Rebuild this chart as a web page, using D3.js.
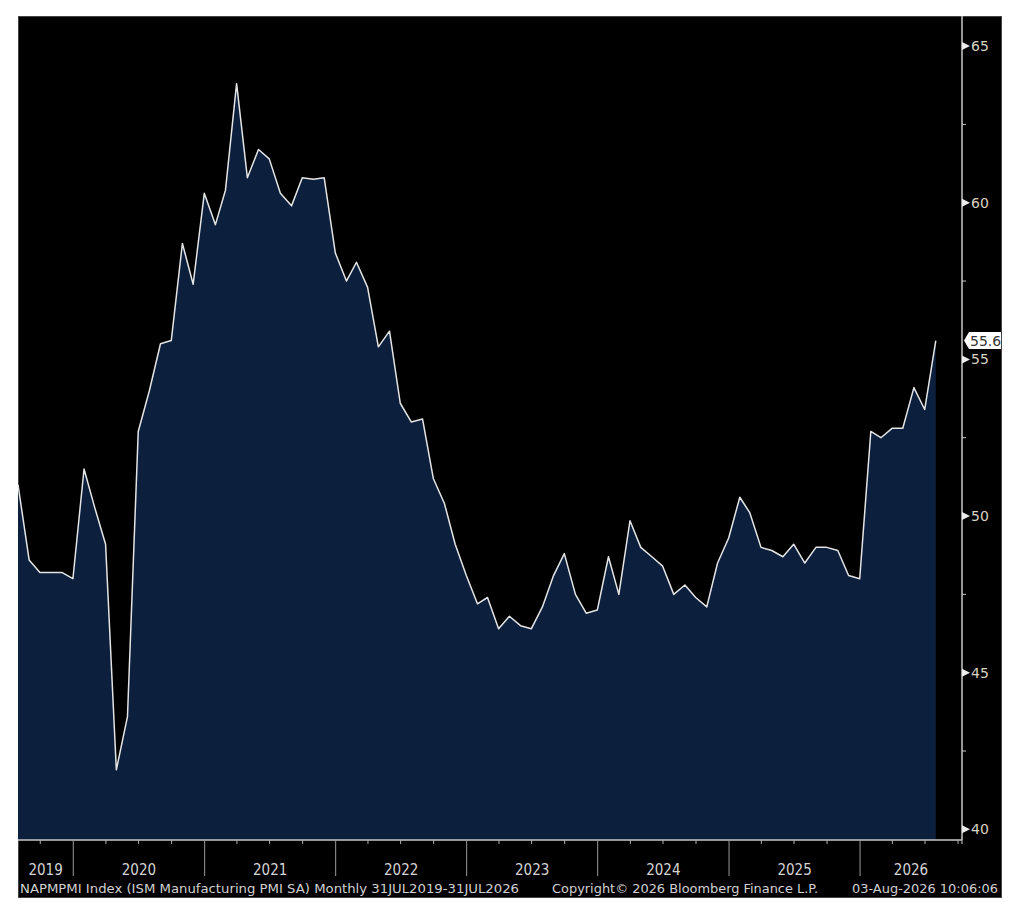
<!DOCTYPE html>
<html>
<head>
<meta charset="utf-8">
<script src="https://cdn.jsdelivr.net/npm/d3@7"></script>
<style>
  body { margin: 0; background: #fff; }
  text { font-family: "DejaVu Sans Condensed", "DejaVu Sans", sans-serif; }
</style>
</head>
<body>
<svg id="pmi-chart"></svg>
<script>
// ISM Manufacturing PMI, monthly, month-end observations 31 Jul 2019 .. 31 Jul 2026
const firstObs = { year: 2019, month: 7 };   // month index used with day 0 -> last day of July
const pmi = [
  51.0, 48.6, 48.2, 48.2, 48.2, 48.0,                         // 2019 Jul-Dec
  51.5, 50.3, 49.1, 41.9, 43.6, 52.7, 54.0, 55.5, 55.6, 58.7, 57.4, 60.3,   // 2020
  59.3, 60.4, 63.8, 60.8, 61.7, 61.4, 60.3, 59.9, 60.8, 60.75, 60.8, 58.4,  // 2021
  57.5, 58.1, 57.3, 55.4, 55.9, 53.6, 53.0, 53.1, 51.2, 50.4, 49.1, 48.1,   // 2022
  47.2, 47.4, 46.4, 46.8, 46.5, 46.4, 47.1, 48.1, 48.8, 47.5, 46.9, 47.0,   // 2023
  48.7, 47.5, 49.85, 49.0, 48.7, 48.4, 47.5, 47.8, 47.4, 47.1, 48.5, 49.3,  // 2024
  50.6, 50.1, 49.0, 48.9, 48.7, 49.1, 48.5, 49.0, 49.0, 48.9, 48.1, 48.0,   // 2025
  52.7, 52.5, 52.8, 52.8, 54.1, 53.4, 55.6                                  // 2026 Jan-Jul
];
const yMajor = [40, 45, 50, 55, 60, 65];
const yMinor = [42.5, 47.5, 52.5, 57.5, 62.5];
const years = [2019, 2020, 2021, 2022, 2023, 2024, 2025, 2026];
const lastLabel = "55.6";
const footerLeft = "NAPMPMI Index (ISM Manufacturing PMI SA) Monthly 31JUL2019-31JUL2026";
const footerMid = "Copyright\u00A9 2026 Bloomberg Finance L.P.";
const footerRight = "03-Aug-2026 10:06:06";

const W = 1024, H = 921;
const frame = { left: 18, top: 16, right: 1001, bottom: 897 };
const plot = { left: 18, top: 16, right: 962, bottom: 840 };

const data = pmi.map((v, i) => ({ date: new Date(firstObs.year, firstObs.month + i, 0), v: v }));

const svg = d3.select("#pmi-chart")
    .attr("width", W)
    .attr("height", H);

// black terminal frame
svg.append("rect")
    .attr("x", frame.left + 0.5)
    .attr("y", frame.top + 0.5)
    .attr("width", frame.right - frame.left)
    .attr("height", frame.bottom - frame.top)
    .attr("fill", "#000")
    .attr("stroke", "#444")
    .attr("stroke-width", 1);

// scales
const x = d3.scaleTime()
    .domain([new Date(2019, 6, 31), new Date(2026, 9, 12)])
    .range([plot.left, plot.right]);

const y = d3.scaleLinear()
    .domain([39.66, 65.96])
    .range([plot.bottom, plot.top]);

// area + line
const area = d3.area()
    .x(d => x(d.date))
    .y0(plot.bottom)
    .y1(d => y(d.v));

const line = d3.line()
    .x(d => x(d.date))
    .y(d => y(d.v));

svg.append("path")
    .datum(data)
    .attr("d", area)
    .attr("fill", "#0c1f3d");

svg.append("path")
    .datum(data)
    .attr("d", line)
    .attr("fill", "none")
    .attr("stroke", "#e4e4e4")
    .attr("stroke-width", 1.5)
    .attr("stroke-linejoin", "round");

//********** right axis **********//
const ya = svg.append("g").attr("class", "y axis");

ya.append("line")
    .attr("x1", plot.right).attr("x2", plot.right)
    .attr("y1", plot.top).attr("y2", plot.bottom)
    .attr("stroke", "#c8c8c8")
    .attr("stroke-width", 1.5);

ya.selectAll(".minor").data(yMinor)
  .enter().append("line")
    .attr("class", "minor")
    .attr("x1", plot.right).attr("x2", plot.right + 4)
    .attr("y1", d => y(d)).attr("y2", d => y(d))
    .attr("stroke", "#c8c8c8");

const maj = ya.selectAll(".major").data(yMajor)
  .enter().append("g")
    .attr("class", "major")
    .attr("transform", d => `translate(${plot.right},${y(d)})`);

maj.append("path")
    .attr("d", "M0,-4L8,0L0,4Z")
    .attr("fill", "#ececec");

maj.append("text")
    .attr("x", 9)
    .attr("dy", "0.36em")
    .attr("fill", "#d8d2c0")
    .style("font-family", "'DejaVu Sans', sans-serif")
    .style("font-size", "14px")
    .text(d => d);

// last value flag
const last = data[data.length - 1];
const ly = y(last.v);
svg.append("path")
    .attr("d", `M${plot.right + 2},${ly} L${plot.right + 7},${ly - 8.5} L${frame.right},${ly - 8.5} L${frame.right},${ly + 8.5} L${plot.right + 7},${ly + 8.5} Z`)
    .attr("fill", "#fff");

svg.append("text")
    .attr("x", plot.right + 8)
    .attr("y", ly)
    .attr("dy", "0.36em")
    .attr("fill", "#333")
    .style("font-family", "'DejaVu Sans', sans-serif")
    .style("font-size", "14px")
    .text(lastLabel);

//********** bottom axis **********//
const xa = svg.append("g").attr("class", "x axis");

xa.append("line")
    .attr("x1", plot.left).attr("x2", plot.right)
    .attr("y1", plot.bottom).attr("y2", plot.bottom)
    .attr("stroke", "#c8c8c8")
    .attr("stroke-width", 1.5);

const quarters = d3.timeMonth.every(3).range(x.domain()[0], x.domain()[1])
    .filter(d => d.getMonth() !== 0);

xa.selectAll(".qtick").data(quarters)
  .enter().append("line")
    .attr("class", "qtick")
    .attr("x1", d => x(d)).attr("x2", d => x(d))
    .attr("y1", plot.bottom).attr("y2", plot.bottom + 4)
    .attr("stroke", "#b0b0b0");

const yearStarts = years.slice(1).map(yr => new Date(yr, 0, 1));

xa.selectAll(".ysep").data(yearStarts)
  .enter().append("line")
    .attr("class", "ysep")
    .attr("x1", d => x(d)).attr("x2", d => x(d))
    .attr("y1", plot.bottom).attr("y2", plot.bottom + 36)
    .attr("stroke", "#9a9a9a");

xa.append("line")
    .attr("x1", plot.right).attr("x2", plot.right)
    .attr("y1", plot.bottom).attr("y2", plot.bottom + 4)
    .attr("stroke", "#c8c8c8");

xa.selectAll(".ylab").data(years)
  .enter().append("text")
    .attr("class", "ylab")
    .attr("x", yr => {
        const a = Math.max(plot.left, x(new Date(yr, 0, 1)));
        const b = Math.min(plot.right, x(new Date(yr + 1, 0, 1)));
        return (a + b) / 2;
    })
    .attr("y", 875)
    .attr("text-anchor", "middle")
    .attr("fill", "#d4d4d4")
    .style("font-size", "15px")
    .text(d => d);

//********** footer **********//
const foot = [
    { t: footerLeft, x: 20, w: 499 },
    { t: footerMid, x: 552, w: 266 },
    { t: footerRight, x: 852, w: 146 }
];
svg.selectAll(".foot").data(foot)
  .enter().append("text")
    .attr("class", "foot")
    .attr("x", d => d.x)
    .attr("y", 893)
    .attr("textLength", d => d.w)
    .attr("lengthAdjust", "spacingAndGlyphs")
    .attr("fill", "#d0d0d0")
    .style("font-size", "13px")
    .text(d => d.t);
</script>
</body>
</html>
